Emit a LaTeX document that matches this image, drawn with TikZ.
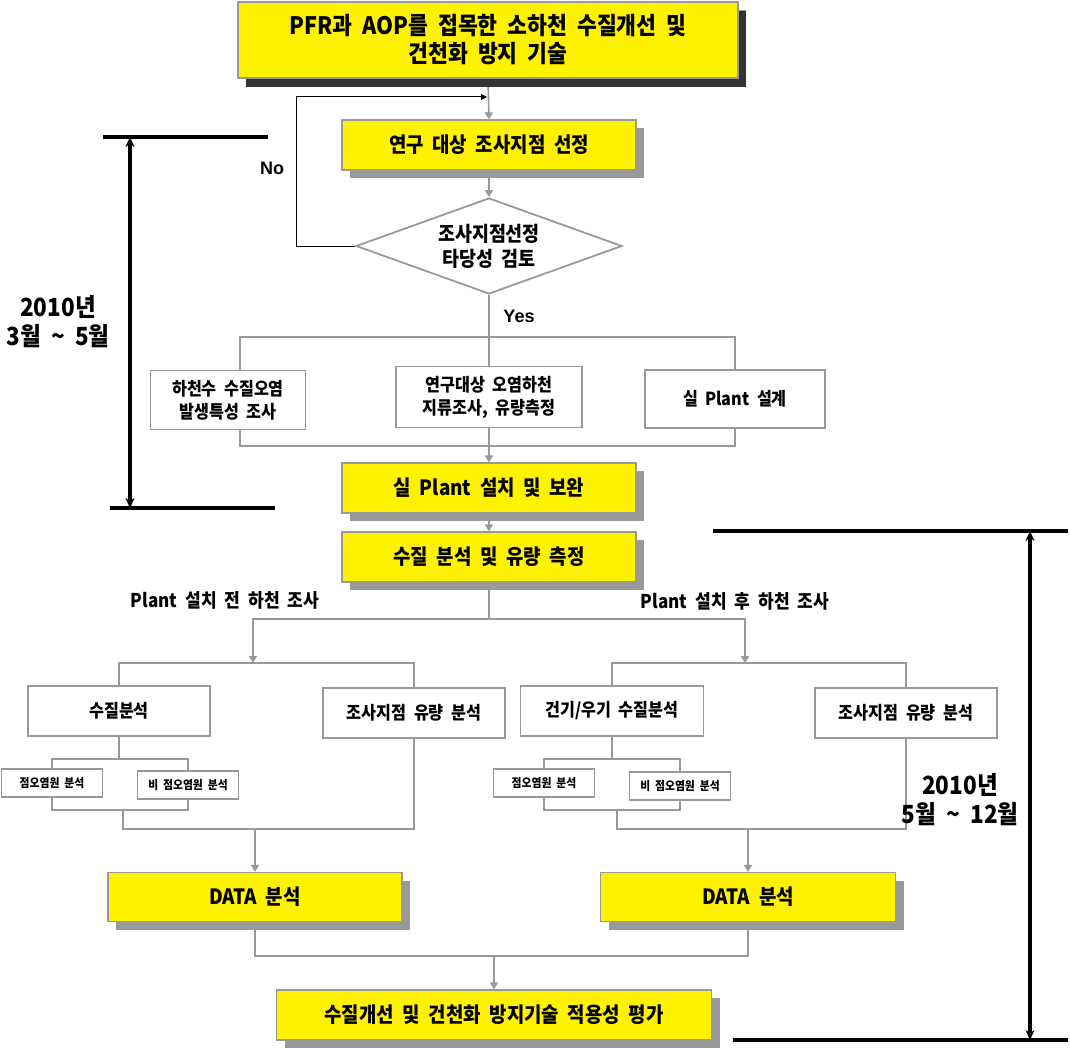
\documentclass[tikz,border=0pt]{standalone}
\usepackage{fontspec}
\setmainfont{Noto Sans CJK KR}[FakeStretch=0.9,WordSpace=2]
\newfontfamily\arialfont{Liberation Sans}
\usetikzlibrary{shapes.geometric,shadows,arrows.meta,backgrounds}

\begin{document}
\begin{tikzpicture}[x=1pt,y=-1pt,
    ybox/.style={rectangle, draw=gray!80, line width=1.2pt, fill=yellow, inner sep=0pt, align=center,
        drop shadow={shadow xshift=8pt, shadow yshift=-8pt, fill=gray!80, opacity=1}},
    wbox/.style={rectangle, draw=gray!80, line width=1.8pt, fill=white, inner sep=0pt, align=center},
    ln/.style={draw=gray!80, line width=1.6pt},
    arr/.style={ln, -{Triangle[length=7pt,width=8pt]}},
    tl/.style={line width=3.2pt},
    ftitle/.style={font=\bfseries\fontsize{24}{28}\selectfont},
    fmain/.style={font=\bfseries\fontsize{21}{24}\selectfont},
    fmid/.style={font=\bfseries\fontsize{18}{23}\selectfont},
    fsmall/.style={font=\bfseries\fontsize{12}{15}\selectfont},
    fpl/.style={font=\bfseries\fontsize{19}{23}\selectfont},
    fper/.style={font=\bfseries\fontsize{25}{29}\selectfont, align=center},
    fyn/.style={font=\arialfont\bfseries\fontsize{18}{20}\selectfont},
    ]
    \useasboundingbox (0,0) rectangle (1070,1051);

    \node[ybox, ftitle, minimum width=500pt, minimum height=76pt,
        drop shadow={shadow xshift=8pt, shadow yshift=-9pt, fill=black!80, opacity=1}]
        (title) at (488,40) {PFR과 AOP를 접목한 소하천 수질개선 및\\건천화 방지 기술};
    \node[ybox, fmain, minimum width=294pt, minimum height=50pt] (select) at (489,145) {연구 대상 조사지점 선정};
    \node[wbox, fmain, diamond, aspect=2.77, minimum width=266pt, minimum height=96pt,
        font=\bfseries\fontsize{20.5}{25}\selectfont] (check) at (489,246) {조사지점선정\\타당성 검토};
    \node[fyn] (no) at (272,168) {No};
    \node[fyn] (yes) at (519,316) {Yes};

    \node[wbox, fmid, minimum width=155pt, minimum height=59pt] (survA) at (228,400) {하천수 수질오염\\발생특성 조사};
    \node[wbox, fmid, minimum width=186pt, minimum height=61pt] (survB) at (489,397) {연구대상 오염하천\\지류조사, 유량측정};
    \node[wbox, fmid, minimum width=180pt, minimum height=58pt] (design) at (735,399) {실 Plant 설계};

    \node[ybox, fmain, minimum width=294pt, minimum height=50pt] (install) at (489,488) {실 Plant 설치 및 보완};
    \node[ybox, fmain, minimum width=294pt, minimum height=50pt] (measure) at (489,557) {수질 분석 및 유량 측정};

    \node[fpl] (preL) at (225,600) {Plant 설치 전 하천 조사};
    \node[fpl] (postR) at (735,601) {Plant 설치 후 하천 조사};

    \node[wbox, fmid, minimum width=182pt, minimum height=50pt] (qualL) at (119,711) {수질분석};
    \node[wbox, fmid, minimum width=182pt, minimum height=50pt] (flowL) at (414,713) {조사지점 유량 분석};
    \node[wbox, fsmall, minimum width=101pt, minimum height=28pt] (pointL) at (52,783) {점오염원 분석};
    \node[wbox, fsmall, minimum width=101pt, minimum height=28pt] (nonptL) at (188,785) {비 점오염원 분석};

    \node[wbox, fmid, minimum width=183pt, minimum height=50pt] (qualR) at (612,711) {건기/우기 수질분석};
    \node[wbox, fmid, minimum width=182pt, minimum height=50pt] (flowR) at (906,713) {조사지점 유량 분석};
    \node[wbox, fsmall, minimum width=101pt, minimum height=28pt] (pointR) at (544,783) {점오염원 분석};
    \node[wbox, fsmall, minimum width=101pt, minimum height=28pt] (nonptR) at (680,786) {비 점오염원 분석};

    \node[ybox, fmain, minimum width=294pt, minimum height=49pt] (dataL) at (255,897) {DATA 분석};
    \node[ybox, fmain, minimum width=295pt, minimum height=49pt] (dataR) at (748,897) {DATA 분석};
    \node[ybox, fmain, minimum width=435pt, minimum height=50pt] (evalN) at (494,1015) {수질개선 및 건천화 방지기술 적용성 평가};

    \node[fper] (perA) at (58,322) {2010년\\3월 \textasciitilde{} 5월};
    \node[fper] (perB) at (960,800) {2010년\\5월 \textasciitilde{} 12월};

    \coordinate (loopin) at (487,97);
    \coordinate (yesj) at (489,337);
    \coordinate (joinA) at (489,446);
    \coordinate (split) at (489,619);
    \coordinate (brL) at (253,663);
    \coordinate (brR) at (745,663);
    \coordinate (sjL) at (119,759);
    \coordinate (bjL) at (123,810);
    \coordinate (cjL) at (255,829);
    \coordinate (sjR) at (612,759);
    \coordinate (bjR) at (617,810);
    \coordinate (cjR) at (748,829);
    \coordinate (ej) at (494,956);
    \coordinate (tA1) at (130,137);
    \coordinate (tA2) at (130,508);
    \coordinate (tB1) at (1030,531);
    \coordinate (tB2) at (1030,1040);

    \begin{pgfonlayer}{background}
        \draw[arr] (title.south) -- (select.north);
        \draw[black, line width=1pt, -{Triangle[length=6pt,width=6pt]}] (check.west) -- ++(-59,0) |- (loopin);
        \draw[arr] (select.south) -- (check.north);
        \draw[ln] (check.south) -- (yesj);
        \draw[ln] ([xshift=12pt]survA.north) |- (yesj) -| (design.north);
        \draw[ln] (yesj) -- (survB.north);
        \draw[ln] ([xshift=12pt]survA.south) |- (joinA) -| (design.south);
        \draw[arr] (survB.south) -- (install.north);
        \draw[arr] (install.south) -- (measure.north);
        \draw[ln] (measure.south) -- (split);
        \draw[arr] (split) -| (brL);
        \draw[arr] (split) -| (brR);
        \draw[ln] (qualL.north) |- (brL) -| (flowL.north);
        \draw[ln] (qualR.north) |- (brR) -| (flowR.north);
        \draw[ln] (qualL.south) -- (sjL);
        \draw[ln] (pointL.north) |- (sjL) -| (nonptL.north);
        \draw[ln] (pointL.south) |- (bjL) -| (nonptL.south);
        \draw[ln] (bjL) |- (cjL) -| (flowL.south);
        \draw[arr] (cjL) -- (dataL.north);
        \draw[ln] (qualR.south) -- (sjR);
        \draw[ln] (pointR.north) |- (sjR) -| (nonptR.north);
        \draw[ln] (pointR.south) |- (bjR) -| (nonptR.south);
        \draw[ln] (bjR) |- (cjR) -| (flowR.south);
        \draw[arr] (cjR) -- (dataR.north);
        \draw[ln] (dataL.south) |- (ej) -| (dataR.south);
        \draw[arr] (ej) -- (evalN.north);
    \end{pgfonlayer}

    \draw[tl] (103,137) -- (268,137);
    \draw[tl] (110,508) -- (275,508);
    \draw[tl, {Stealth[length=10pt,width=9pt]}-{Stealth[length=10pt,width=9pt]}] (tA1) -- (tA2);
    \draw[tl] (713,531) -- (1068,531);
    \draw[tl] (733,1040) -- (1068,1040);
    \draw[tl, {Stealth[length=10pt,width=9pt]}-{Stealth[length=10pt,width=9pt]}] (tB1) -- (tB2);
\end{tikzpicture}
\end{document}
